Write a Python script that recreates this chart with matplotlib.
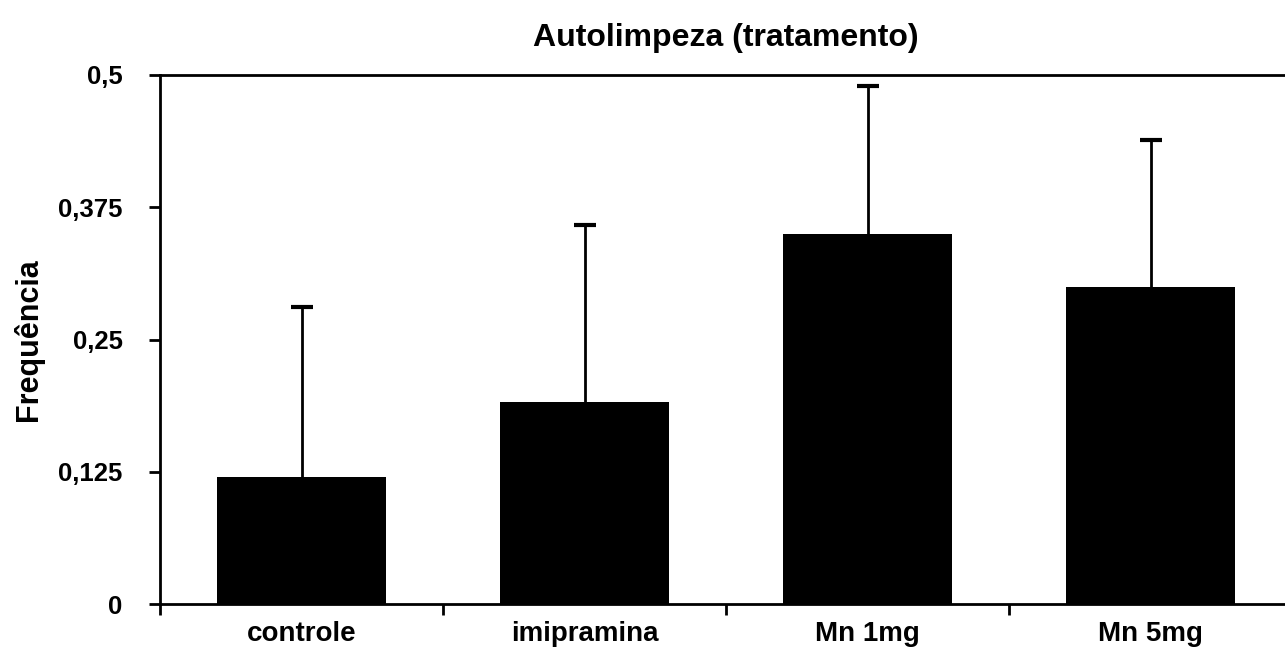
import matplotlib
matplotlib.use('Agg')
from matplotlib import pyplot as plt
import numpy as np

grupos = ['controle', 'imipramina', 'Mn 1mg', 'Mn 5mg']
media = [0.120, 0.191, 0.350, 0.300]
erro = [0.161, 0.167, 0.140, 0.139]
yticks = [0, 0.125, 0.25, 0.375, 0.5]
yticklabels = ['0', '0,125', '0,25', '0,375', '0,5']

plt.rcParams['font.family'] = ['Liberation Sans', 'DejaVu Sans']
plt.rcParams['font.weight'] = 'bold'

fig = plt.figure(figsize=(12.85, 6.48), dpi=100)
ax = fig.add_axes([160/1285, 1 - 604/648, 1132/1285, 529/648])

x = np.arange(len(grupos))
ax.bar(x, media, width=0.6, color='black', zorder=2)
eb = ax.errorbar(x, media, yerr=[np.zeros(len(erro)), erro], fmt='none',
                 ecolor='black', elinewidth=2, capsize=8, capthick=3, zorder=1)
# only the upper cap is shown
eb[1][0].set_visible(False)

ax.set_xlim(-0.5, 3.5)
ax.set_ylim(0, 0.5)
ax.set_yticks(yticks)
ax.set_yticklabels(yticklabels, fontsize=18.5, fontweight='bold')
ax.set_xticks(x)
ax.set_xticklabels(grupos, fontsize=20, fontweight='bold')
ax.set_xticks(np.arange(-0.5, 4, 1), minor=True)
ax.tick_params(axis='x', which='major', length=0, pad=12)
ax.tick_params(axis='x', which='minor', length=8, width=2, direction='out')
ax.tick_params(axis='y', length=8, width=2, direction='out', pad=19)

for s in ['left', 'bottom', 'top']:
    ax.spines[s].set_linewidth(2)
ax.spines['right'].set_visible(False)

ax.set_ylabel('Frequência', fontsize=22, fontweight='bold', labelpad=10)
ax.set_title('Autolimpeza (tratamento)', fontsize=23, fontweight='bold', pad=21)

plt.savefig('out.png', dpi=100)
